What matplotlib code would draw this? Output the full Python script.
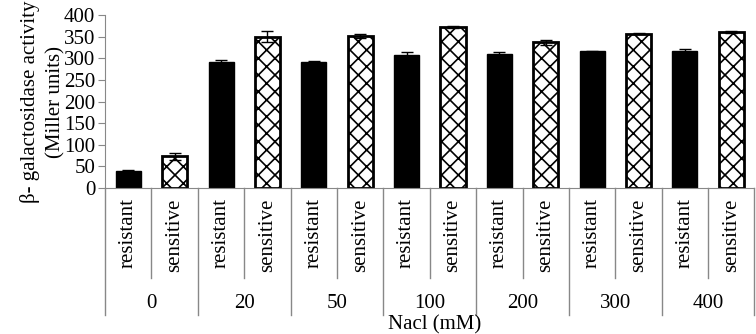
import numpy as np
import matplotlib
matplotlib.use("Agg")
import matplotlib.pyplot as plt
from matplotlib.transforms import blended_transform_factory

plt.rcParams['font.family'] = ['Liberation Serif', 'DejaVu Serif']
plt.rcParams['hatch.linewidth'] = 1.2

groups = ["0", "20", "50", "100", "200", "300", "400"]
strains = ["resistant", "sensitive"]
resistant = [40, 292, 292, 308, 310, 316, 317]
resistant_err = [1, 3, 2, 6, 5, 1, 5]
sensitive = [73, 350, 352, 373, 337, 357, 361]
sensitive_err = [8, 12, 4, 2, 6, 2, 2]

fs = 15
fig = plt.figure(figsize=(7.56, 3.34), dpi=100)
ax = fig.add_axes([0.139, 0.437, 0.859, 0.518])

n = len(groups)
x_res = np.arange(n) * 2
x_sen = x_res + 1
w = 0.54
ax.bar(x_res, resistant, width=w, color='black', edgecolor='black',
       yerr=resistant_err, capsize=4, error_kw=dict(elinewidth=1, capthick=1))
ax.bar(x_sen, sensitive, width=w, color='white', edgecolor='black', linewidth=2,
       hatch='xx', yerr=sensitive_err, capsize=4, error_kw=dict(elinewidth=1, capthick=1))

ax.set_xlim(-0.5, 2 * n - 0.5)
ax.set_ylim(0, 400)
ax.set_yticks(range(0, 401, 50))
ax.tick_params(axis='y', labelsize=fs, length=5, color='#888888', pad=2)
ax.set_xticks([])
for s in ['top', 'right']:
    ax.spines[s].set_visible(False)
for s in ['left', 'bottom']:
    ax.spines[s].set_color('#888888')

# category axis below the plot
trans = blended_transform_factory(ax.transData, ax.transAxes)
ax_h = 0.518 * 334
sub_len = 90 / ax_h
grp_len = 127 / ax_h
for i in range(2 * n + 1):
    xb = i - 0.5
    length = grp_len if i % 2 == 0 else sub_len
    ax.plot([xb, xb], [0, -length], transform=trans, color='#888888',
            lw=1, clip_on=False)
for i in range(2 * n):
    ax.text(i, -0.06, strains[i % 2], transform=trans, rotation=90,
            ha='center', va='top', fontsize=fs)
for g in range(n):
    ax.text(2 * g + 0.5, -115 / ax_h, groups[g], transform=trans,
            ha='center', va='center', fontsize=fs)

fig.text(0.575, 0.028, "Nacl (mM)", ha='center', va='center', fontsize=fs)
ax.set_ylabel("β- galactosidase activity\n(Miller units)", fontsize=fs,
              linespacing=1.4, labelpad=-1)

fig.savefig("out.png", dpi=100)
